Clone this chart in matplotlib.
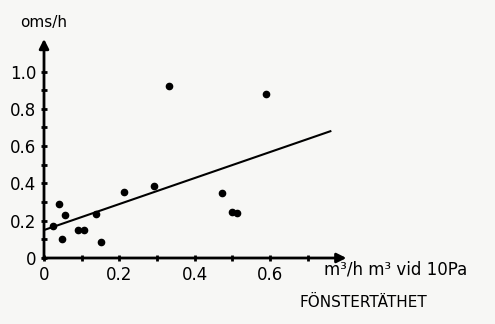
import matplotlib.pyplot as plt
import numpy as np

# fönstertäthet (m3/h m3 vid 10Pa) och luftomsättning (oms/h)
tathet = [0.024, 0.040, 0.048, 0.056, 0.090, 0.106, 0.138, 0.150,
          0.212, 0.292, 0.332, 0.472, 0.500, 0.512, 0.590]
oms = [0.17, 0.29, 0.10, 0.23, 0.15, 0.15, 0.235, 0.085,
       0.355, 0.385, 0.92, 0.35, 0.245, 0.24, 0.88]

# regressionslinje
linje_x = [0.0, 0.76]
linje_y = [0.15, 0.68]

xticks_major = [0, 0.2, 0.4, 0.6]
xlabels = ['0', '0.2', '0.4', '0.6']
yticks_major = [0, 0.2, 0.4, 0.6, 0.8, 1.0]
ylabels = ['0', '0.2', '0.4', '0.6', '0.8', '1.0']

fig = plt.figure(figsize=(4.95, 3.24), dpi=100)
fig.patch.set_facecolor('#f7f7f5')
ax = fig.add_axes([0.0889, 0.2037, 0.612, 0.679])
ax.set_facecolor('none')
ax.set_xlim(0, 0.804)
ax.set_ylim(0, 1.18)
for s in ax.spines.values():
    s.set_visible(False)

# axlar med pilar
ax.annotate('', xy=(0.81, 0), xytext=(-0.01, 0), annotation_clip=False,
            arrowprops=dict(arrowstyle='-|>', color='black', lw=2, mutation_scale=14))
ax.annotate('', xy=(0, 1.19), xytext=(0, -0.02), annotation_clip=False,
            arrowprops=dict(arrowstyle='-|>', color='black', lw=2, mutation_scale=14))

ax.plot(tathet, oms, 'o', color='black', markersize=4.5, clip_on=False)
ax.plot(linje_x, linje_y, color='black', lw=1.5)

ax.set_xticks(xticks_major)
ax.set_xticklabels(xlabels)
ax.set_xticks(np.arange(0.1, 0.71, 0.1), minor=True)
ax.set_yticks(yticks_major)
ax.set_yticklabels(ylabels)
ax.set_yticks(np.arange(0.1, 1.01, 0.1), minor=True)
ax.tick_params(which='both', direction='inout', length=5, width=2, color='black',
               labelsize=12, pad=3)
ax.tick_params(axis='y', pad=3)

fig.text(0.04, 0.93, 'oms/h', fontsize=11, ha='left', va='center')
fig.text(0.655, 0.168, 'm³/h m³ vid 10Pa', fontsize=12, ha='left', va='center')
fig.text(0.605, 0.065, 'FÖNSTERTÄTHET', fontsize=11, ha='left', va='center')

fig.savefig('out.png', dpi=100, facecolor=fig.get_facecolor())
